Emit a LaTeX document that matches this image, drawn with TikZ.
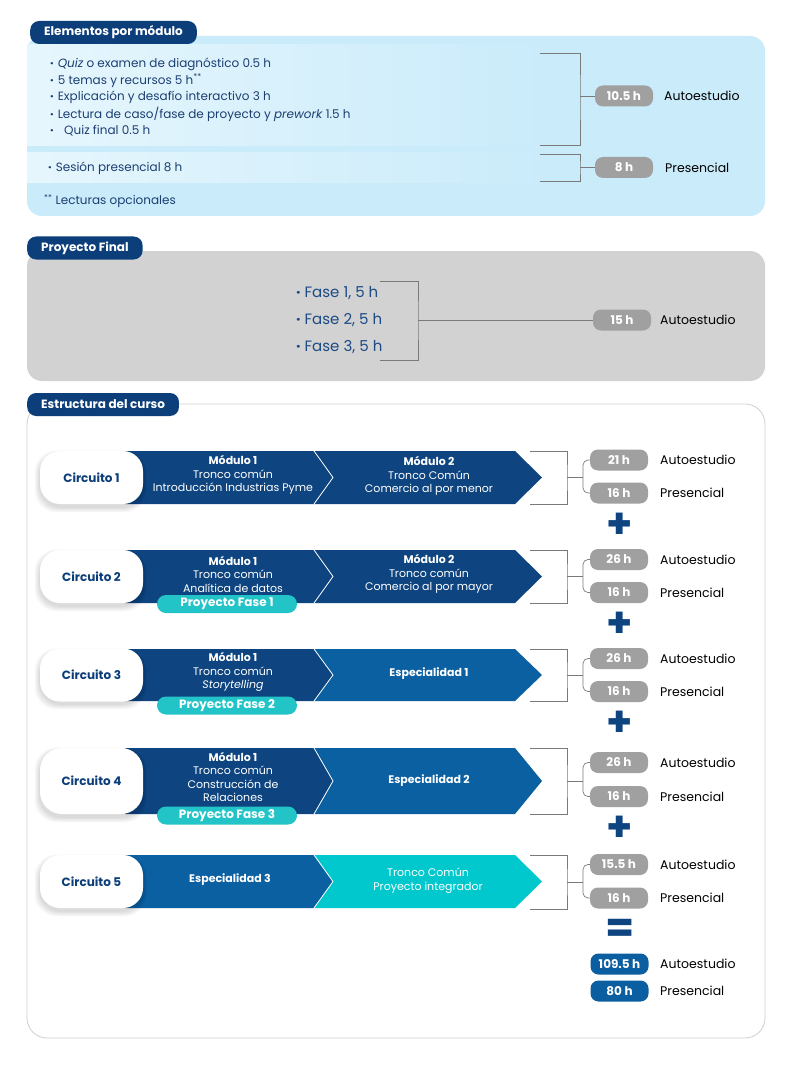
\documentclass[tikz,border=0pt]{standalone}
\usepackage{fontspec}
\setmainfont{Poppins}
\definecolor{tabnavy}{HTML}{0C3E7A}
\definecolor{bandnavy}{HTML}{0E447F}
\definecolor{midblue}{HTML}{0B60A2}
\definecolor{tealband}{HTML}{00C8CD}
\definecolor{tealpill}{HTML}{22C4C7}
\definecolor{badgegray}{HTML}{A0A0A0}
\definecolor{totblue}{HTML}{0B5E9F}
\definecolor{lightbox}{HTML}{C9EBFA}
\definecolor{lightband}{HTML}{E6F6FD}
\definecolor{graybox}{HTML}{D2D2D2}
\definecolor{outl}{HTML}{D0D0D0}
\definecolor{txtnavy}{HTML}{1C3F72}
\definecolor{fasenavy}{HTML}{1B4A85}
\definecolor{brkgray}{HTML}{7A7A7A}
\newcommand{\chevband}[4]{%
  \pgfmathsetmacro\cc{(#1+#2)/2}
  \fill[#3] (125,#1) -- (314,#1) -- (333,\cc) -- (314,#2) -- (125,#2) -- cycle;
  \fill[#4] (314,#1) -- (515,#1) -- (542,\cc) -- (515,#2) -- (314,#2) -- (333,\cc) -- cycle;
  \draw[white, line width=0.8pt] (314,#1) -- (333,\cc) -- (314,#2);}
\newcommand{\softshadow}[2]{%
  \foreach \k in {1,...,6} {
    \fill[black, opacity=0.022, rounded corners=22pt]
      ({40-\k*0.9},{#1-\k*0.6+3}) rectangle ({143+\k*0.6},{#2+\k*0.9+3});
  }}
\newcommand{\bul}{\textbf{·}\hspace{4pt}}
\begin{document}
\begin{tikzpicture}[x=1pt,y=-1pt,
  tab/.style={fill=tabnavy, rounded corners=9pt, text=white, font=\bfseries\fontsize{12}{14}\selectfont, anchor=west, inner xsep=14pt, minimum height=23pt},
  badge/.style={fill=badgegray, rounded corners=8pt, text=white, font=\bfseries\fontsize{12}{14}\selectfont, minimum width=58pt, minimum height=21pt, inner sep=0pt},
  totbadge/.style={badge, fill=totblue},
  lbl/.style={anchor=west, font=\fontsize{12.5}{14}\selectfont, inner sep=0pt},
  item/.style={anchor=west, text=txtnavy, font=\fontsize{12}{14}\selectfont, inner sep=0pt},
  fase/.style={anchor=west, text=fasenavy, font=\fontsize{15}{17}\selectfont, inner sep=0pt},
  brk/.style={draw=brkgray, line width=0.7pt},
  circ/.style={fill=white, rounded corners=20pt, minimum width=103pt, minimum height=53pt, inner sep=0pt, text=tabnavy, font=\bfseries\fontsize{12}{14}\selectfont},
  proy/.style={fill=tealpill, rounded corners=9pt, minimum width=140pt, minimum height=18pt, inner sep=0pt, text=white, font=\bfseries\fontsize{12}{13}\selectfont},
  mod/.style={align=center, text=white, font=\fontsize{11}{13.5}\selectfont, inner sep=0pt},
  sym/.style={text=bandnavy, font=\bfseries\fontsize{42}{42}\selectfont, inner sep=0pt}
]
\fill[white] (0,0) rectangle (786,1075);
\useasboundingbox (0,0) rectangle (786,1075);

% ---------- Section 1 ----------
\fill[lightbox, rounded corners=15pt] (27,36) rectangle (765,216);
\shade[left color=lightband, right color=lightbox] (27,45) rectangle (560,146);
\shade[left color=lightband, right color=lightbox] (27,153) rectangle (560,183);
\node[tab] (t1) at (30,32.5) {Elementos por módulo};
\node[item] (i1) at (50,64) {\bul\textit{Quiz} o examen de diagnóstico 0.5 h};
\node[item] (i2) at (50,80.5) {\bul 5 temas y recursos 5 h\textsuperscript{**}};
\node[item] (i3) at (50,97.5) {\bul Explicación y desafío interactivo 3 h};
\node[item] (i4) at (50,114.5) {\bul Lectura de caso/fase de proyecto y \textit{prework} 1.5 h};
\node[item] (i5) at (50,131) {\bul\ \ Quiz final 0.5 h};
\node[item] (i6) at (48,168) {\bul Sesión presencial 8 h};
\node[item] (i7) at (44,201) {\textsuperscript{**} Lecturas opcionales};
\coordinate (a1t) at (540,53);
\coordinate (a1b) at (540,145);
\coordinate (a1m) at (580,96);
\node[badge] (b1) at (624,96) {10.5 h};
\node[lbl] (l1) at (664,96) {Autoestudio};
\draw[brk] (a1t) -| (a1m) |- (a1b);
\draw[brk] (a1m) -- (b1.west);
\coordinate (a2t) at (540,154);
\coordinate (a2b) at (540,181);
\coordinate (a2m) at (580,167.5);
\node[badge] (b2) at (624,167.5) {8 h};
\node[lbl] (l2) at (665,167.5) {Presencial};
\draw[brk] (a2t) -| (a2m) |- (a2b);
\draw[brk] (a2m) -- (b2.west);

% ---------- Section 2 ----------
\fill[graybox, rounded corners=15pt] (27,251) rectangle (765,381);
\node[tab] (t2) at (27,248) {Proyecto Final};
\node[fase] (f1) at (296,293) {\bul Fase 1, 5 h};
\node[fase] (f2) at (296,320) {\bul Fase 2, 5 h};
\node[fase] (f3) at (296,347) {\bul Fase 3, 5 h};
\coordinate (p1t) at (380,281);
\coordinate (p1b) at (380,360);
\coordinate (p1m) at (418,320);
\node[badge] (b3) at (622,320) {15 h};
\node[lbl] (l3) at (660,320) {Autoestudio};
\draw[brk] (p1t) -| (p1m) |- (p1b);
\draw[brk] (p1m) -- (b3.west);

% ---------- Section 3 ----------
\draw[outl, line width=0.8pt, fill=white, rounded corners=20pt] (27,404) rectangle (765,1038);
\node[tab] (t3) at (27,404.5) {Estructura del curso};

% bands
\chevband{451}{504}{bandnavy}{bandnavy}
\chevband{550}{603}{bandnavy}{bandnavy}
\chevband{649}{701}{bandnavy}{midblue}
\chevband{748}{814}{bandnavy}{midblue}
\chevband{855}{908}{midblue}{tealband}

% circuit pills
\softshadow{451}{504}
\softshadow{550}{603}
\softshadow{649}{701}
\softshadow{748}{814}
\softshadow{855}{908}
\node[circ] (c1) at (91.5,477.5) {Circuito 1};
\node[circ] (c2) at (91.5,576.5) {Circuito 2};
\node[circ] (c3) at (91.5,675) {Circuito 3};
\node[circ, minimum height=66pt, rounded corners=22pt] (c4) at (91.5,781) {Circuito 4};
\node[circ] (c5) at (91.5,881.5) {Circuito 5};

% module texts
\node[mod] (m11) at (233,475) {\textbf{Módulo 1}\\Tronco común\\Introducción Industrias Pyme};
\node[mod] (m12) at (429,476) {\textbf{Módulo 2}\\Tronco Común\\Comercio al por menor};
\node[mod] (m21) at (233,574) {\textbf{Módulo 1}\\Tronco común\\Analítica de datos};
\node[mod] (m22) at (429,574) {\textbf{Módulo 2}\\Tronco común\\Comercio al por mayor};
\node[mod] (m31) at (233,672) {\textbf{Módulo 1}\\Tronco común\\\textit{Storytelling}};
\node[mod] (m32) at (429,674) {\textbf{Especialidad 1}};
\node[mod] (m41) at (233,777) {\textbf{Módulo 1}\\Tronco común\\Construcción de\\Relaciones};
\node[mod] (m42) at (429,781) {\textbf{Especialidad 2}};
\node[mod] (m51) at (230,880) {\textbf{Especialidad 3}};
\node[mod] (m52) at (428,880.5) {Tronco Común\\Proyecto integrador};

% proyecto pills
\node[proy] (pf1) at (227,604) {Proyecto Fase 1};
\node[proy] (pf2) at (227,705.5) {Proyecto Fase 2};
\node[proy] (pf3) at (227,815.5) {Proyecto Fase 3};

% right brackets and badges
% row 1
\coordinate (r1t) at (530,451); \coordinate (r1b) at (530,504);
\coordinate (r1v) at (567,477.5); \coordinate (r1j) at (583,477.5);
\node[badge] (r1a) at (619,460) {21 h};
\node[badge] (r1p) at (619,493) {16 h};
\node[lbl] (r1la) at (660,460) {Autoestudio};
\node[lbl] (r1lp) at (660,493) {Presencial};
\draw[brk] (r1t) -| (r1v) |- (r1b);
\draw[brk] (r1v) -- (r1j);
\draw[brk, rounded corners=5pt] (r1a.west) -| (r1j) |- (r1p.west);
\node[sym] (plus1) at (620,526) {+};
% row 2
\coordinate (r2t) at (530,550); \coordinate (r2b) at (530,603);
\coordinate (r2v) at (567,576.5); \coordinate (r2j) at (583,576.5);
\node[badge] (r2a) at (619,559.5) {26 h};
\node[badge] (r2p) at (619,592.5) {16 h};
\node[lbl] (r2la) at (660,559.5) {Autoestudio};
\node[lbl] (r2lp) at (660,592.5) {Presencial};
\draw[brk] (r2t) -| (r2v) |- (r2b);
\draw[brk] (r2v) -- (r2j);
\draw[brk, rounded corners=5pt] (r2a.west) -| (r2j) |- (r2p.west);
\node[sym] (plus2) at (620,625) {+};
% row 3
\coordinate (r3t) at (530,649); \coordinate (r3b) at (530,701);
\coordinate (r3v) at (567,675); \coordinate (r3j) at (583,675);
\node[badge] (r3a) at (619,658.5) {26 h};
\node[badge] (r3p) at (619,691.5) {16 h};
\node[lbl] (r3la) at (660,658.5) {Autoestudio};
\node[lbl] (r3lp) at (660,691.5) {Presencial};
\draw[brk] (r3t) -| (r3v) |- (r3b);
\draw[brk] (r3v) -- (r3j);
\draw[brk, rounded corners=5pt] (r3a.west) -| (r3j) |- (r3p.west);
\node[sym] (plus3) at (620,724) {+};
% row 4
\coordinate (r4t) at (530,748); \coordinate (r4b) at (530,814);
\coordinate (r4v) at (567,781); \coordinate (r4j) at (583,781);
\node[badge] (r4a) at (619,762.5) {26 h};
\node[badge] (r4p) at (619,796.5) {16 h};
\node[lbl] (r4la) at (660,762.5) {Autoestudio};
\node[lbl] (r4lp) at (660,796.5) {Presencial};
\draw[brk] (r4t) -| (r4v) |- (r4b);
\draw[brk] (r4v) -- (r4j);
\draw[brk, rounded corners=5pt] (r4a.west) -| (r4j) |- (r4p.west);
\node[sym] (plus4) at (620,829) {+};
% row 5
\coordinate (r5t) at (530,855); \coordinate (r5b) at (530,909);
\coordinate (r5v) at (567,882); \coordinate (r5j) at (583,882);
\node[badge] (r5a) at (619,864.5) {15.5 h};
\node[badge] (r5p) at (619,898) {16 h};
\node[lbl] (r5la) at (660,864.5) {Autoestudio};
\node[lbl] (r5lp) at (660,898) {Presencial};
\draw[brk] (r5t) -| (r5v) |- (r5b);
\draw[brk] (r5v) -- (r5j);
\draw[brk, rounded corners=5pt] (r5a.west) -| (r5j) |- (r5p.west);
\node[sym] (eq) at (620,931) {=};
% totals
\node[totbadge] (ta) at (619.5,964) {109.5 h};
\node[totbadge] (tp) at (619.5,991) {80 h};
\node[lbl] (tla) at (660,964) {Autoestudio};
\node[lbl] (tlp) at (660,991) {Presencial};
\end{tikzpicture}
\end{document}
